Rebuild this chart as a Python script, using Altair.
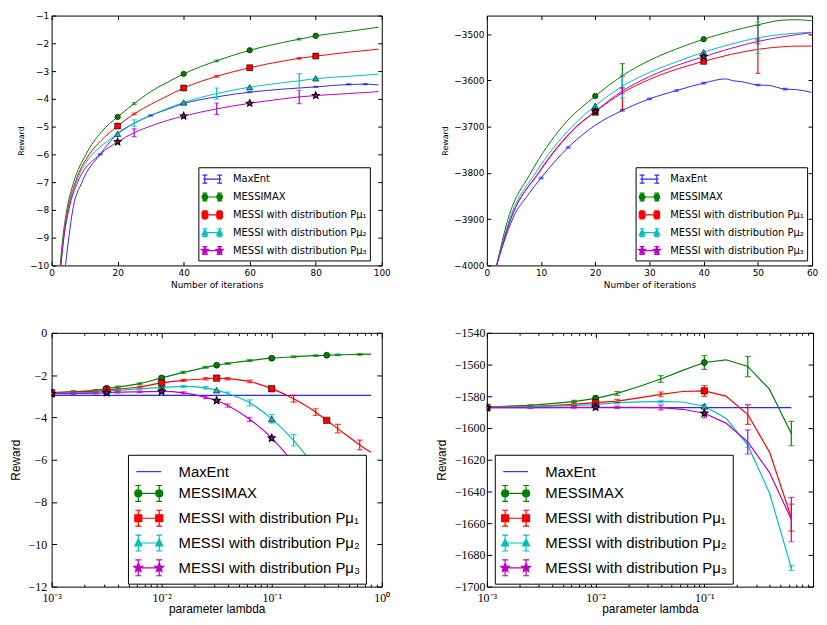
import math
import altair as alt
import pandas as pd

NAMES = ["MaxEnt", "MESSIMAX", "MESSI with distribution Pμ₁",
         "MESSI with distribution Pμ₂", "MESSI with distribution Pμ₃"]
COLORS = ["#2a2aff", "#008000", "#ff0000", "#00bfbf", "#bf00bf"]

# ---------------- Panel 1: reward vs number of iterations ----------------
P1_MAXENT_X = [4.2, 5.2, 6.4, 9.2, 14.7, 20, 25, 30, 35, 40, 50, 60, 70, 80, 90, 95, 99]
P1_MAXENT_Y = [-10, -9, -8, -7, -6, -5.25, -4.88, -4.6, -4.38, -4.17, -3.93, -3.76, -3.65, -3.57, -3.48, -3.47, -3.5]
P1_MAXENT_E = [None, None, None, None, 0.02, None, None, 0.02, None, 0.02, None, 0.02, None, 0.02, 0.02, 0.02, None]
P1_MAX_X = [2.6, 3.4, 4.6, 6.7, 10.4, 15, 20, 25, 30, 35, 40, 50, 60, 70, 75, 80, 90, 99]
P1_MAX_Y = [-10, -9, -8, -7, -6, -5.2, -4.65, -4.17, -3.74, -3.41, -3.1, -2.63, -2.25, -1.97, -1.85, -1.73, -1.57, -1.42]
P1_MAX_E = [None, None, None, None, None, None, None, 0.03, None, None, None, 0.03, None, None, 0.03, None, None, None]
P1_MU1_X = [2.7, 3.6, 4.9, 7.2, 11.4, 15, 20, 25, 30, 35, 40, 50, 60, 70, 75, 80, 90, 99]
P1_MU1_Y = [-10, -9, -8, -7, -6, -5.5, -4.98, -4.54, -4.2, -3.9, -3.61, -3.19, -2.88, -2.64, -2.54, -2.46, -2.32, -2.21]
P1_MU1_E = [None, None, None, None, None, None, None, 0.03, None, None, None, 0.03, None, None, 0.03, None, None, None]
P1_MU2_X = [2.8, 3.7, 5.1, 7.5, 12.3, 15, 20, 25, 30, 35, 40, 50, 60, 70, 75, 80, 90, 99]
P1_MU2_Y = [-10, -9, -8, -7, -6, -5.7, -5.26, -4.88, -4.6, -4.35, -4.13, -3.81, -3.58, -3.42, -3.35, -3.27, -3.19, -3.11]
P1_MU2_E = [None, None, None, None, None, None, None, 0.12, None, None, None, 0.2, None, None, 0.26, None, None, None]
P1_MU3_X = [2.8, 3.7, 5.2, 7.9, 14.7, 20, 25, 30, 35, 40, 50, 60, 70, 75, 80, 90, 99]
P1_MU3_Y = [-10, -9, -8, -7, -6, -5.55, -5.22, -4.98, -4.78, -4.62, -4.36, -4.16, -4.0, -3.93, -3.88, -3.81, -3.74]
P1_MU3_E = [None, None, None, None, None, None, 0.14, None, None, None, 0.21, None, None, 0.24, None, None, None]
P1_MARK_X = [20, 40, 60, 80]
P1_MARK_MAX = [-4.65, -3.1, -2.25, -1.73]
P1_MARK_MU1 = [-4.98, -3.61, -2.88, -2.46]
P1_MARK_MU2 = [-5.26, -4.13, -3.58, -3.26]
P1_MARK_MU3 = [-5.55, -4.62, -4.16, -3.88]

# ---------------- Panel 2: reward vs number of iterations ----------------
P2_MAXENT_X = [1.8, 3, 5, 7.5, 10, 15, 20, 25, 30, 35, 40, 44, 45.5, 47, 50, 52, 55, 57, 59.9]
P2_MAXENT_Y = [-4000, -3955, -3893, -3849, -3811, -3745, -3697, -3665, -3640, -3622, -3606, -3597, -3601, -3603, -3610, -3611, -3619, -3620, -3626]
P2_MAXENT_E = [None, None, None, None, 1.5, 1.5, None, 1.5, 1.5, 1.5, 1.5, None, None, None, 1.5, None, 1.5, None, None]
P2_MAX_X = [1.8, 3.9, 8.1, 13.9, 20, 25, 30, 35, 40, 45, 50, 54.5, 57, 59.9]
P2_MAX_Y = [-4000, -3900, -3800, -3700, -3634, -3590, -3557, -3532, -3511, -3494, -3480, -3470, -3469, -3471]
P2_MAX_E = [None, None, None, None, None, 26, None, None, None, None, 35, None, None, None]
P2_MU1_X = [1.8, 4.4, 9.6, 16.6, 20, 25, 30, 35, 40, 45, 50, 55, 57, 59.9]
P2_MU1_Y = [-4000, -3900, -3800, -3700, -3668, -3627, -3598, -3576, -3559, -3544, -3533, -3527, -3526, -3526]
P2_MU1_E = [None, None, None, None, None, 36, None, None, None, None, 52, None, None, None]
P2_MU2_X = [1.8, 4.2, 9, 15.7, 20, 25, 30, 35, 40, 45, 50, 55, 59.9]
P2_MU2_Y = [-4000, -3900, -3800, -3700, -3655, -3613, -3583, -3560, -3539, -3522, -3508, -3500, -3496]
P2_MU2_E = [None, None, None, None, None, 25, None, None, None, None, 34, None, None]
P2_MU3_X = [1.8, 4.4, 9.5, 16.5, 20, 25, 30, 35, 40, 45, 50, 55, 59.9]
P2_MU3_Y = [-4000, -3900, -3800, -3700, -3667, -3623, -3592, -3568, -3549, -3531, -3516, -3505, -3497]
P2_MU3_E = [None, None, None, None, None, 6, None, None, None, None, 5, None, None]
P2_MARK_X = [20, 40]
P2_MARK_MAX = [-3634, -3511]
P2_MARK_MU1 = [-3669, -3559]
P2_MARK_MU2 = [-3655, -3539]
P2_MARK_MU3 = [-3667, -3549]

# ---------------- Panel 3: reward vs parameter lambda ----------------
P3_LAM = [0.001, 0.00158, 0.00251, 0.00316, 0.00398, 0.00631, 0.01, 0.0158, 0.0251, 0.0316,
          0.0398, 0.0631, 0.1, 0.158, 0.251, 0.316, 0.398, 0.631, 0.8]
P3_MAXENT_X = [0.001, 0.8]
P3_MAXENT_Y = [-2.96, -2.96]
P3_MAX_Y = [-2.82, -2.78, -2.72, -2.62, -2.56, -2.4, -2.13, -1.87, -1.63, -1.53, -1.45, -1.31, -1.2, -1.13, -1.08, -1.06, -1.04, -1.02, -1.01]
P3_MAX_E = [0.04, 0.04, 0.04, None, 0.04, 0.04, 0.05, 0.05, 0.04, None, 0.04, 0.04, 0.05, 0.04, 0.04, None, 0.04, 0.04, None]
P3_MU1_Y = [-2.84, -2.8, -2.76, -2.7, -2.66, -2.56, -2.37, -2.25, -2.17, -2.14, -2.17, -2.3, -2.64, -3.12, -3.75, -4.14, -4.53, -5.3, -5.65]
P3_MU1_E = [0.04, 0.04, 0.04, None, 0.04, 0.04, 0.05, 0.05, 0.05, None, 0.05, 0.06, 0.08, 0.16, 0.16, None, 0.2, 0.23, None]
P3_MU2_Y = [-2.86, -2.84, -2.8, -2.75, -2.72, -2.65, -2.58, -2.53, -2.6, -2.71, -2.87, -3.31, -4.07, -5.08, -6.4]
P3_MU2_E = [0.04, 0.04, 0.04, None, 0.04, 0.04, 0.05, 0.05, 0.06, None, 0.07, 0.14, 0.2, 0.27, None]
P3_MU3_Y = [-2.88, -2.87, -2.85, -2.83, -2.81, -2.79, -2.77, -2.84, -3.05, -3.2, -3.44, -4.09, -4.98, -6.15]
P3_MU3_E = [0.04, 0.04, 0.04, None, 0.04, 0.04, 0.05, 0.05, 0.06, None, 0.08, 0.1, 0.1, None]
P3_MARK_X = [0.001, 0.00316, 0.01, 0.0316, 0.1, 0.316]
P3_MARK_MAX = [-2.82, -2.62, -2.13, -1.53, -1.2, -1.06]
P3_MARK_MU1 = [-2.84, -2.7, -2.37, -2.14, -2.64, -4.14]
P3_MARK_MU2 = [-2.86, -2.75, -2.58, -2.71, -4.07]
P3_MARK_MU3 = [-2.88, -2.83, -2.77, -3.2, -4.98]

# ---------------- Panel 4: reward vs parameter lambda ----------------
P4_LAM = [0.001, 0.00251, 0.00631, 0.01, 0.0158, 0.0251, 0.0398, 0.0631, 0.1, 0.158, 0.251, 0.398, 0.631]
P4_MAXENT_X = [0.001, 0.631]
P4_MAXENT_Y = [-1587.2, -1587.2]
P4_MAX_Y = [-1586.8, -1585.7, -1583.4, -1581.3, -1578.2, -1573.8, -1569.1, -1563.7, -1558.7, -1557, -1561.2, -1575.7, -1603.5]
P4_MAX_E = [0.5, 0.5, 0.8, 1.5, 1.2, None, 2.1, None, 4.3, None, 6.4, None, 7.7]
P4_MU1_Y = [-1587, -1586.5, -1585.1, -1584, -1583, -1581, -1578.8, -1577, -1576.6, -1579.9, -1591.5, -1615.2, -1656.5]
P4_MU1_E = [0.5, 0.5, 0.8, 1.2, 1.0, None, 1.5, None, 3.4, None, 6.2, None, 8.5]
P4_MU2_Y = [-1587, -1586.5, -1585.8, -1585.3, -1584, -1583.5, -1583.4, -1583.6, -1586.3, -1593.8, -1610.8, -1641, -1688.3]
P4_MU2_E = [0.5, 0.5, 0.6, 0.8, 0.7, None, 0.8, None, 1.2, None, 1.5, None, 1.4]
P4_MU3_Y = [-1587.2, -1587.1, -1587, -1587, -1586.9, -1587, -1587.1, -1588.2, -1590.7, -1596.9, -1608.8, -1628.1, -1657.7]
P4_MU3_E = [0.5, 0.5, 0.5, 1.2, 0.7, None, 1.5, None, 3.0, None, 7.6, None, 14]
P4_MARK_X = [0.001, 0.01, 0.1]
P4_MARK_MAX = [-1586.8, -1581.3, -1558.7]
P4_MARK_MU1 = [-1587, -1584, -1576.6]
P4_MARK_MU2 = [-1587, -1585.3, -1586.3]
P4_MARK_MU3 = [-1587.2, -1587, -1590.7]


# ---------------- symbol helpers (styles only) ----------------
def star(cx, cy, r, inner=0.45):
    pts = []
    for k in range(10):
        a = -math.pi / 2 + k * math.pi / 5
        rr = r if k % 2 == 0 else r * inner
        pts.append(f"{cx + rr * math.cos(a):.3f},{cy + rr * math.sin(a):.3f}")
    return "M" + "L".join(pts) + "Z"


def circle(cx, r):
    return f"M{cx - r:.3f},0A{r:.3f},{r:.3f},0,1,0,{cx + r:.3f},0A{r:.3f},{r:.3f},0,1,0,{cx - r:.3f},0Z"


def square(cx, r):
    return f"M{cx - r:.3f},{-r:.3f}H{cx + r:.3f}V{r:.3f}H{cx - r:.3f}Z"


def tri(cx, r):
    return f"M{cx:.3f},{-1.15 * r:.3f}L{cx + r:.3f},{0.85 * r:.3f}L{cx - r:.3f},{0.85 * r:.3f}Z"


def ebar(cx, h, w):
    return (f"M{cx:.3f},{-h:.3f}V{h:.3f}M{cx - w:.3f},{-h:.3f}H{cx + w:.3f}"
            f"M{cx - w:.3f},{h:.3f}H{cx + w:.3f}")


def legend_paths(L, E, H, W, R, maxent_bars):
    line = f"M{-L:.3f},0H{L:.3f}"
    bars = ebar(-E, H, W) + ebar(E, H, W)
    makers = [circle, square, tri, lambda c, r: star(c, 0, r * 1.35)]
    out = [line + (bars if maxent_bars else "")]
    for f in makers:
        out.append(line + bars + f(-E, R) + f(E, R))
    return out


PLOT_SHAPES = ["circle", "square", "triangle-up", star(0, 0, 1)]
MARK_EDGE = [0.6, 0.6, 0.6, 1.2]
SUPS = "datum.value < 0.005 ? '10⁻³' : datum.value < 0.05 ? '10⁻²' : datum.value < 0.5 ? '10⁻¹' : '10⁰'"
SUPS_NO_LAST = "datum.value < 0.005 ? '10⁻³' : datum.value < 0.05 ? '10⁻²' : datum.value < 0.5 ? '10⁻¹' : ''"
MINOR = [m * 10.0 ** e for e in (-3, -2, -1) for m in range(2, 10)]


def frames(series, markers):
    lrows, erows, crows, mrows = [], [], [], []
    for name, xs, ys, es in series:
        for i, (x, y) in enumerate(zip(xs, ys)):
            lrows.append({"s": name, "x": x, "y": y})
            if es is not None and es[i] is not None:
                erows.append({"s": name, "x": x, "lo": y - es[i], "hi": y + es[i]})
                crows.append({"s": name, "x": x, "c": y - es[i]})
                crows.append({"s": name, "x": x, "c": y + es[i]})
    for name, xs, ys in markers:
        for x, y in zip(xs, ys):
            mrows.append({"s": name, "x": x, "y": y})
    return (pd.DataFrame(lrows), pd.DataFrame(erows), pd.DataFrame(crows), pd.DataFrame(mrows))


def tick_axis(orient, vals, T):
    return alt.Axis(orient=orient, values=vals, offset=-T, tickSize=T, ticks=True,
                    tickColor="black", tickWidth=1, labels=False, domain=False,
                    grid=False, title="")


def panel(series, markers, c):
    L, E, C, M = frames(series, markers)
    xs = alt.Scale(type=c["xtype"], domain=c["xdom"], nice=False)
    ys = alt.Scale(domain=c["ydom"], nice=False, zero=False)
    # data-mark colour scale (listed in reverse so that this legend-less scale
    # is never merged with the legend scales below)
    col = alt.Scale(domain=NAMES[::-1], range=COLORS[::-1])
    lcol = alt.Scale(domain=NAMES, range=COLORS)

    def X(f):
        return alt.X(f, type="quantitative", scale=xs, axis=None)

    def Y(f):
        return alt.Y(f, type="quantitative", scale=ys, axis=None)

    colour = alt.Color("s:N", scale=col, legend=None)
    layers = [
        alt.Chart(L).mark_line(strokeWidth=c["lw"], clip=True, interpolate=c["interp"]).encode(
            x=X("x"), y=Y("y"), color=colour, detail="s:N"),
        alt.Chart(E).mark_rule(strokeWidth=1.2, clip=True).encode(x=X("x"), y=Y("lo"), y2=alt.Y2("hi"), color=colour),
        alt.Chart(C).mark_tick(orient="horizontal", size=c["cap"], thickness=1.2, clip=True).encode(
            x=X("x"), y=Y("c"), color=colour),
    ]
    for name, color, shape, size, edge in zip(NAMES[1:], COLORS[1:], PLOT_SHAPES, c["msize"], MARK_EDGE):
        layers.append(
            alt.Chart(M).transform_filter(alt.datum.s == name).mark_point(
                shape=shape, filled=True, fill=color, stroke="black", strokeWidth=edge,
                size=size, opacity=1, clip=True).encode(x=X("x"), y=Y("y")))
    lg = c["legend"]
    leg = alt.Legend(title=None, orient="none", legendX=lg["x"], legendY=lg["y"],
                     fillColor="white", strokeColor="black", padding=lg["pad"],
                     symbolSize=lg["size"], symbolStrokeWidth=1.2, symbolOffset=lg["soff"],
                     symbolOpacity=1,
                     labelFont=lg["font"], labelFontSize=lg["fs"], labelColor="black",
                     labelOffset=lg["loff"], rowPadding=lg["rowpad"], labelLimit=400)
    layers.append(
        alt.Chart(L).transform_filter("false").mark_point(filled=True, opacity=1).encode(
            x=X("x"), y=Y("y"),
            fill=alt.Fill("s:N", scale=lcol, legend=leg),
            stroke=alt.Stroke("s:N", scale=lcol, legend=leg),
            shape=alt.Shape("s:N", scale=alt.Scale(domain=NAMES, range=c["paths"]), legend=leg)))

    def axl(xa, ya):
        return alt.Chart(M).mark_point(opacity=0).encode(
            x=alt.X("x:Q", scale=xs, axis=xa), y=alt.Y("y:Q", scale=ys, axis=ya))

    xfmt = {"labelExpr": c["xexpr"]} if c.get("xexpr") else {"format": "d"}
    xa = alt.Axis(orient="bottom", values=c["xticks"], ticks=False, tickSize=0, domain=False, grid=False,
                  labelFont=c["lfont"], labelFontSize=c["lfs"], labelColor="black",
                  labelPadding=c["xlpad"], labelFlush=False, labelOverlap=False,
                  title=c["xtitle"], titleFont=c["tfont"], titleFontSize=c["tfs"],
                  titleFontWeight="normal", titleColor="black", titlePadding=c["xtpad"], **xfmt)
    ya = alt.Axis(orient="left", values=c["yticks"], ticks=False, tickSize=0, domain=False, grid=False,
                  labelFont=c["lfont"], labelFontSize=c["lfs"], labelColor="black",
                  labelPadding=c["ylpad"], labelFlush=False, labelOverlap=False, format="d",
                  title="Reward", titleFont=c["tfont"], titleFontSize=c["ytfs"],
                  titleFontWeight="normal", titleColor="black", titlePadding=c["ytpad"])
    T = c["T"]
    layers.append(axl(xa, ya))
    layers.append(axl(tick_axis("bottom", c["xticks"], T), tick_axis("left", c["yticks"], T)))
    layers.append(axl(tick_axis("top", c["xticks"], T), tick_axis("right", c["yticks"], T)))
    if c.get("minor"):
        t = c["t"]
        layers.append(axl(tick_axis("bottom", c["minor"], t), None))
        layers.append(axl(tick_axis("top", c["minor"], t), None))
    return alt.layer(*layers).resolve_axis(x="independent", y="independent").properties(
        width=c["w"], height=c["h"])


TOP_LEG = dict(pad=3, size=256, soff=2, font="DejaVu Sans", fs=10, loff=12, rowpad=2,
               paths=legend_paths(1.15, 0.93, 0.5, 0.31, 0.35, True))
BOT_LEG = dict(pad=5, size=484, soff=4, font="Liberation Sans", fs=15, loff=18, rowpad=2,
               paths=legend_paths(1.14, 0.96, 0.73, 0.27, 0.32, False))

TOP = dict(xtype="linear", lfont="DejaVu Sans", lfs=9, tfont="DejaVu Sans", tfs=9, ytfs=8,
           xlpad=3, xtpad=3, ylpad=3, ytpad=4, T=4, cap=5, msize=[30, 36, 40, 49],
           xtitle="Number of iterations", h=252, interp="monotone", lw=1.0)
BOT = dict(xtype="log", lfont="Liberation Serif", lfs=12, tfont="Liberation Sans", tfs=12, ytfs=12,
           xlpad=6, xtpad=0, ylpad=5, ytpad=6, T=5, t=2.5, cap=6, msize=[36, 42, 45, 55],
           xtitle="parameter lambda", h=256, minor=MINOR, xdom=[0.001, 1], xticks=[0.001, 0.01, 0.1, 1],
           lw=1.2)

p1 = panel(
    [(NAMES[0], P1_MAXENT_X, P1_MAXENT_Y, P1_MAXENT_E), (NAMES[1], P1_MAX_X, P1_MAX_Y, P1_MAX_E),
     (NAMES[2], P1_MU1_X, P1_MU1_Y, P1_MU1_E), (NAMES[3], P1_MU2_X, P1_MU2_Y, P1_MU2_E),
     (NAMES[4], P1_MU3_X, P1_MU3_Y, P1_MU3_E)],
    [(NAMES[1], P1_MARK_X, P1_MARK_MAX), (NAMES[2], P1_MARK_X, P1_MARK_MU1),
     (NAMES[3], P1_MARK_X, P1_MARK_MU2), (NAMES[4], P1_MARK_X, P1_MARK_MU3)],
    dict(TOP, w=333, xdom=[0, 100], ydom=[-10, -1], xticks=[0, 20, 40, 60, 80, 100],
         yticks=[-10, -9, -8, -7, -6, -5, -4, -3, -2, -1], paths=TOP_LEG["paths"],
         legend=dict(TOP_LEG, x=148, y=153)))

p2 = panel(
    [(NAMES[0], P2_MAXENT_X, P2_MAXENT_Y, P2_MAXENT_E), (NAMES[1], P2_MAX_X, P2_MAX_Y, P2_MAX_E),
     (NAMES[2], P2_MU1_X, P2_MU1_Y, P2_MU1_E), (NAMES[3], P2_MU2_X, P2_MU2_Y, P2_MU2_E),
     (NAMES[4], P2_MU3_X, P2_MU3_Y, P2_MU3_E)],
    [(NAMES[1], P2_MARK_X, P2_MARK_MAX), (NAMES[2], P2_MARK_X, P2_MARK_MU1),
     (NAMES[3], P2_MARK_X, P2_MARK_MU2), (NAMES[4], P2_MARK_X, P2_MARK_MU3)],
    dict(TOP, w=328, xdom=[0, 60], ydom=[-4000, -3460], xticks=[0, 10, 20, 30, 40, 50, 60],
         yticks=[-4000, -3900, -3800, -3700, -3600, -3500], paths=TOP_LEG["paths"],
         legend=dict(TOP_LEG, x=150, y=153)))

p3 = panel(
    [(NAMES[0], P3_MAXENT_X, P3_MAXENT_Y, None), (NAMES[1], P3_LAM, P3_MAX_Y, P3_MAX_E),
     (NAMES[2], P3_LAM, P3_MU1_Y, P3_MU1_E), (NAMES[3], P3_LAM, P3_MU2_Y, P3_MU2_E),
     (NAMES[4], P3_LAM, P3_MU3_Y, P3_MU3_E)],
    [(NAMES[1], P3_MARK_X, P3_MARK_MAX), (NAMES[2], P3_MARK_X, P3_MARK_MU1),
     (NAMES[3], P3_MARK_X, P3_MARK_MU2), (NAMES[4], P3_MARK_X, P3_MARK_MU3)],
    dict(BOT, w=333, ydom=[-12, 0], yticks=[-12, -10, -8, -6, -4, -2, 0], xexpr=SUPS,
         paths=BOT_LEG["paths"], legend=dict(BOT_LEG, x=77, y=123), interp="monotone"))

p4 = panel(
    [(NAMES[0], P4_MAXENT_X, P4_MAXENT_Y, None), (NAMES[1], P4_LAM, P4_MAX_Y, P4_MAX_E),
     (NAMES[2], P4_LAM, P4_MU1_Y, P4_MU1_E), (NAMES[3], P4_LAM, P4_MU2_Y, P4_MU2_E),
     (NAMES[4], P4_LAM, P4_MU3_Y, P4_MU3_E)],
    [(NAMES[1], P4_MARK_X, P4_MARK_MAX), (NAMES[2], P4_MARK_X, P4_MARK_MU1),
     (NAMES[3], P4_MARK_X, P4_MARK_MU2), (NAMES[4], P4_MARK_X, P4_MARK_MU3)],
    dict(BOT, w=329, ydom=[-1700, -1540], yticks=[-1700, -1680, -1660, -1640, -1620, -1600, -1580, -1560, -1540],
         xexpr=SUPS_NO_LAST, ylpad=2, paths=BOT_LEG["paths"], legend=dict(BOT_LEG, x=8, y=123),
         interp="linear"))

chart = alt.concat(
    p1, p2, p3, p4, columns=2, spacing={"row": 68, "column": 106}, bounds="flush"
).resolve_scale(
    x="independent", y="independent", color="independent", fill="independent",
    stroke="independent", shape="independent"
).resolve_legend(
    color="independent", fill="independent", stroke="independent", shape="independent"
).configure_view(stroke="black", strokeWidth=1).properties(padding=0, background="white")

chart.save("out.html", embed_options={"renderer": "svg", "actions": False})
